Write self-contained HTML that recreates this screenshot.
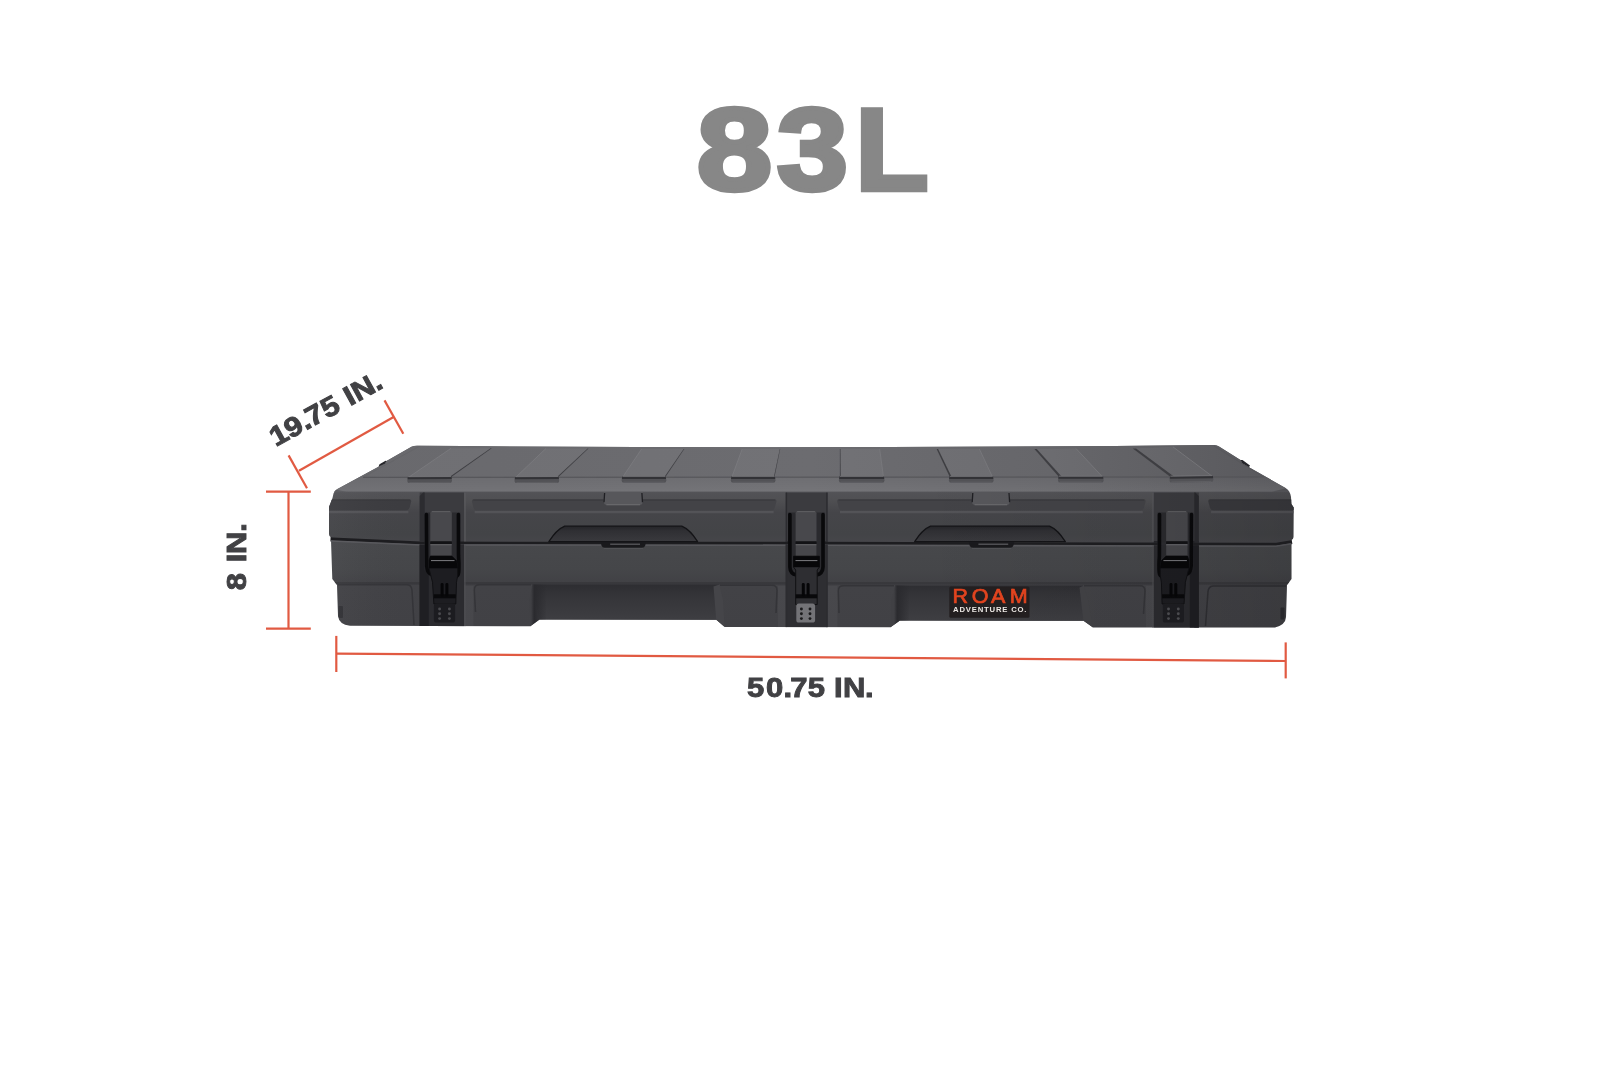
<!DOCTYPE html>
<html lang="en"><head><meta charset="utf-8"><title>83L</title>
<style>
html,body{margin:0;padding:0;background:#fff;}
body{width:1621px;height:1080px;overflow:hidden;position:relative;font-family:"Liberation Sans",sans-serif;}
svg{position:absolute;left:0;top:0;display:block;}
</style></head><body>
<svg width="1621" height="1080" viewBox="0 0 1621 1080">
<defs>
<linearGradient id="gTop" x1="329" y1="0" x2="1294" y2="0" gradientUnits="userSpaceOnUse"><stop offset="0" stop-color="#69696d"/><stop offset="0.5" stop-color="#6c6c70"/><stop offset="0.75" stop-color="#66666a"/><stop offset="0.9" stop-color="#5e5e62"/><stop offset="1" stop-color="#58585c"/></linearGradient>
<linearGradient id="gCham" x1="0" y1="477" x2="0" y2="491.5" gradientUnits="userSpaceOnUse"><stop offset="0" stop-color="#fff" stop-opacity="0.01"/><stop offset="1" stop-color="#fff" stop-opacity="0.06"/></linearGradient>
<linearGradient id="gLid" x1="0" y1="491" x2="0" y2="542" gradientUnits="userSpaceOnUse"><stop offset="0" stop-color="#5a5a5e"/><stop offset="0.035" stop-color="#525256"/><stop offset="0.16" stop-color="#505053"/><stop offset="0.42" stop-color="#454549"/><stop offset="0.85" stop-color="#434447"/><stop offset="1" stop-color="#46464a"/></linearGradient>
<linearGradient id="gBase" x1="0" y1="544" x2="0" y2="628" gradientUnits="userSpaceOnUse"><stop offset="0" stop-color="#47484b"/><stop offset="0.3" stop-color="#454649"/><stop offset="0.47" stop-color="#414145"/><stop offset="0.5" stop-color="#424246"/><stop offset="1" stop-color="#414145"/></linearGradient>
<linearGradient id="gRec" x1="0" y1="584" x2="0" y2="621" gradientUnits="userSpaceOnUse"><stop offset="0" stop-color="#2d2d31"/><stop offset="0.35" stop-color="#353539"/><stop offset="1" stop-color="#3e3e42"/></linearGradient>
<linearGradient id="gHandle" x1="0" y1="526" x2="0" y2="542" gradientUnits="userSpaceOnUse"><stop offset="0" stop-color="#242428"/><stop offset="0.3" stop-color="#2f2f33"/><stop offset="1" stop-color="#3a3a3e"/></linearGradient>
<linearGradient id="gSide" x1="329" y1="0" x2="1294" y2="0" gradientUnits="userSpaceOnUse"><stop offset="0" stop-color="#fff" stop-opacity="0.03"/><stop offset="0.1" stop-color="#000" stop-opacity="0"/><stop offset="0.6" stop-color="#000" stop-opacity="0"/><stop offset="0.85" stop-color="#000" stop-opacity="0.05"/><stop offset="1" stop-color="#000" stop-opacity="0.12"/></linearGradient>
<linearGradient id="gRecL1" x1="531" y1="0" x2="547" y2="0" gradientUnits="userSpaceOnUse"><stop offset="0" stop-color="#404044"/><stop offset="0.2" stop-color="#2a2a2e"/><stop offset="1" stop-color="#2a2a2e" stop-opacity="0"/></linearGradient>
<linearGradient id="gRecL2" x1="894" y1="0" x2="910" y2="0" gradientUnits="userSpaceOnUse"><stop offset="0" stop-color="#404044"/><stop offset="0.2" stop-color="#2a2a2e"/><stop offset="1" stop-color="#2a2a2e" stop-opacity="0"/></linearGradient>
<filter id="noLcd" x="0" y="0" width="1621" height="1080" filterUnits="userSpaceOnUse"><feOffset dx="0" dy="0"/></filter>
<clipPath id="cLid"><path d="M417,445.8 Q811,448.9 1214,444.9 Q1217,444.9 1219,446.5 L1240.5,460 L1242,463.2 L1249,467.3 L1285.5,488 Q1290.5,491.5 1291,497 L1291.4,504 L1293.7,507.5 L1293.5,537 Q1293.5,539.5 1291,540.3 L1276,542.8 L811,541.8 L421,541.6 L333,537.6 Q329,537.4 329,534 L329,507 L332.5,498 L333.5,493.5 Q334.2,491 337,489.3 L378.5,466.8 L385,463.8 L386.5,461 L411.5,446.8 Q413.5,445.8 417,445.8 Z"/></clipPath>
<clipPath id="cBase"><path d="M331,540.2 L421,544.2 L811,544.4 L1276,545.4 L1291.5,543 L1291.5,579 L1287,585 L1286,617 Q1285.5,625 1275,627.4 L1093,627.4 L1083.5,620.8 L900,620.4 L890.5,627.2 L724.7,627 L716.3,619.8 L539.6,619.6 L530.3,626.2 L350,625.8 Q339,624.5 338,616 L337,585 L332.3,579 Z"/></clipPath>
<clipPath id="cAll"><path d="M417,445.8 Q811,448.9 1214,444.9 Q1217,444.9 1219,446.5 L1240.5,460 L1242,463.2 L1249,467.3 L1285.5,488 Q1290.5,491.5 1291,497 L1291.4,504 L1293.7,507.5 L1293.5,537 Q1293.5,539.5 1291,540.3 L1276,542.8 L811,541.8 L421,541.6 L333,537.6 Q329,537.4 329,534 L329,507 L332.5,498 L333.5,493.5 Q334.2,491 337,489.3 L378.5,466.8 L385,463.8 L386.5,461 L411.5,446.8 Q413.5,445.8 417,445.8 Z M331,540.2 L421,544.2 L811,544.4 L1276,545.4 L1291.5,543 L1291.5,579 L1287,585 L1286,617 Q1285.5,625 1275,627.4 L1093,627.4 L1083.5,620.8 L900,620.4 L890.5,627.2 L724.7,627 L716.3,619.8 L539.6,619.6 L530.3,626.2 L350,625.8 Q339,624.5 338,616 L337,585 L332.3,579 Z"/></clipPath>
</defs>
<path d="M330.5,538.9 L421,542.9 L811,543.1 L1276,544.1 L1292,541.6" fill="none" stroke="#1d1d20" stroke-width="5" stroke-linejoin="round"/>
<path d="M331,540.2 L421,544.2 L811,544.4 L1276,545.4 L1291.5,543 L1291.5,579 L1287,585 L1286,617 Q1285.5,625 1275,627.4 L1093,627.4 L1083.5,620.8 L900,620.4 L890.5,627.2 L724.7,627 L716.3,619.8 L539.6,619.6 L530.3,626.2 L350,625.8 Q339,624.5 338,616 L337,585 L332.3,579 Z" fill="url(#gBase)" />
<g clip-path="url(#cBase)">
<path d="M331,540.9 L421,544.9 L811,545.1 L1276,546.1 L1291.5,543.7" stroke="#5a5a5e" stroke-width="1.8" opacity="0.9" fill="none"/>
<rect x="329.0" y="582.0" width="970.0" height="2.6" fill="#37373b" opacity="0.85"/>
<path d="M532.2,584.6 L719,584.6 L716.3,621 L539.6,621 Z" fill="url(#gRec)" />
<path d="M895,585.4 L1083,585.4 L1083.5,622 L900,622 Z" fill="url(#gRec)" />
<path d="M532.2,584.6 L547,584.6 L546,621 L539.6,621 L530.3,628 L529,600 Z" fill="url(#gRecL1)" />
<path d="M719.5,584.6 L713.5,586.5 L716.3,621 L724.7,628 L723,600 Z" fill="#454549" />
<path d="M895,585.4 L910,585.4 L909,622 L900,622 L890.5,628 L891,600 Z" fill="url(#gRecL2)" />
<path d="M1084,585.4 L1079.5,587.5 L1083.5,622 L1093,628 L1088,600 Z" fill="#424246" />
<path d="M338,584.8 L407,584.8 Q411.5,585 412,590 L414,625" fill="none" stroke="#343438" stroke-width="1.5" stroke-linejoin="round"/>
<path d="M1286,586 L1213,586 Q1208.5,586.5 1208,591.5 L1205.5,626" fill="none" stroke="#2f2f33" stroke-width="1.5"/>
<path d="M475.5,612 L474.3,590 Q474.3,584.8 479.5,584.8 L531,584.8" fill="none" stroke="#343438" stroke-width="1.5" stroke-linejoin="round"/>
<path d="M776,613 L777,590.5 Q777,585.3 772,585.3 L720,585.3" fill="none" stroke="#343438" stroke-width="1.5" stroke-linejoin="round"/>
<path d="M839,613 L838.3,591 Q838.3,585.8 843.5,585.8 L894,585.8" fill="none" stroke="#343438" stroke-width="1.5" stroke-linejoin="round"/>
<path d="M1143.5,614 L1145,591 Q1145,585.8 1140,585.8 L1084,585.8" fill="none" stroke="#343438" stroke-width="1.5" stroke-linejoin="round"/>
<rect x="464.5" y="586.0" width="9.0" height="42.0" fill="#fff" opacity="0.035"/>
<rect x="777.8" y="586.0" width="8.2" height="42.0" fill="#fff" opacity="0.035"/>
<rect x="827.0" y="586.0" width="10.5" height="42.0" fill="#fff" opacity="0.035"/>
<rect x="1145.8" y="586.0" width="7.7" height="42.0" fill="#fff" opacity="0.035"/>
<rect x="338.5" y="606.0" width="4.5" height="12.0" fill="#323236" rx="1"/>
<rect x="1280.5" y="607.5" width="4.0" height="12.0" fill="#2d2d31" rx="1"/>
</g>
<path d="M417,445.8 Q811,448.9 1214,444.9 Q1217,444.9 1219,446.5 L1240.5,460 L1242,463.2 L1249,467.3 L1285.5,488 Q1290.5,491.5 1291,497 L1291.4,504 L1293.7,507.5 L1293.5,537 Q1293.5,539.5 1291,540.3 L1276,542.8 L811,541.8 L421,541.6 L333,537.6 Q329,537.4 329,534 L329,507 L332.5,498 L333.5,493.5 Q334.2,491 337,489.3 L378.5,466.8 L385,463.8 L386.5,461 L411.5,446.8 Q413.5,445.8 417,445.8 Z" fill="url(#gLid)" />
<g clip-path="url(#cLid)">
<path d="M325.0,499.6 L409.9,499.6 Q411.4,499.6 411.2,501.5 L409.6,507.5 Q409.0,510.2 405.9,510.2 L325.0,510.2 Z" fill="#3c3c40" />
<line x1="326.5" y1="500" x2="409.9" y2="500" stroke="#37373b" stroke-width="1.2"/>
<line x1="328.0" y1="512.1" x2="408.4" y2="512.1" stroke="#5a5a5e" stroke-width="2.2" opacity="0.7"/>
<path d="M473.2,499.6 L775.1,499.6 Q776.6,499.6 776.4,501.5 L774.8,507.5 Q774.2,510.2 771.1,510.2 L477.2,510.2 Q474.1,510.2 473.5,507.5 L471.9,501.5 Q471.7,499.6 473.2,499.6 Z" fill="#434347" />
<line x1="473.2" y1="500" x2="775.1" y2="500" stroke="#37373b" stroke-width="1.2"/>
<line x1="474.7" y1="512.1" x2="773.6" y2="512.1" stroke="#5a5a5e" stroke-width="2.2" opacity="0.7"/>
<path d="M838.5,499.6 L1144.3,499.6 Q1145.8,499.6 1145.6,501.5 L1144.0,507.5 Q1143.4,510.2 1140.3,510.2 L842.5,510.2 Q839.4,510.2 838.8,507.5 L837.2,501.5 Q837.0,499.6 838.5,499.6 Z" fill="#434347" />
<line x1="838.5" y1="500" x2="1144.3" y2="500" stroke="#37373b" stroke-width="1.2"/>
<line x1="840.0" y1="512.1" x2="1142.8" y2="512.1" stroke="#5a5a5e" stroke-width="2.2" opacity="0.7"/>
<path d="M1209.6,499.6 L1300.0,499.6 L1300.0,510.2 L1213.6,510.2 Q1210.5,510.2 1209.9,507.5 L1208.3,501.5 Q1208.1,499.6 1209.6,499.6 Z" fill="#3a3a3e" />
<line x1="1209.6" y1="500" x2="1298.5" y2="500" stroke="#37373b" stroke-width="1.2"/>
<line x1="1211.1" y1="512.1" x2="1297.0" y2="512.1" stroke="#5a5a5e" stroke-width="2.2" opacity="0.7"/>
<path d="M603.4,491.5 L643.1,491.5 L642.8,502 Q642.5,505 639.6,505 L606.9,505 Q604.0,505 603.7,502 Z" fill="#57575b" />
<path d="M604.6,493 L604.0,502.2" stroke="#1f1f23" stroke-width="1.3" fill="none"/>
<path d="M641.9,493 L642.5,502.2" stroke="#1f1f23" stroke-width="1.3" fill="none"/>
<path d="M606.4,504.8 L640.1,504.8" stroke="#707074" stroke-width="1" fill="none" opacity="0.9"/>
<path d="M971.6,491.5 L1010.2,491.5 L1009.9,502 Q1009.6,505 1006.7,505 L975.1,505 Q972.2,505 971.9,502 Z" fill="#57575b" />
<path d="M972.8,493 L972.2,502.2" stroke="#1f1f23" stroke-width="1.3" fill="none"/>
<path d="M1009.0,493 L1009.6,502.2" stroke="#1f1f23" stroke-width="1.3" fill="none"/>
<path d="M974.6,504.8 L1007.2,504.8" stroke="#707074" stroke-width="1" fill="none" opacity="0.9"/>
<path d="M400,440 L1230,440 L1300,491.6 L320,491.6 Z" fill="url(#gTop)" />
<path d="M363,477.3 L1263.5,477 L1300,491.6 L320,491.6 Z" fill="url(#gCham)" />
<path d="M1263.5,477 L363,477.3" stroke="#525256" stroke-width="1" fill="none"/>
<path d="M363,477.3 L420,446" stroke="#5e5e62" stroke-width="0.8" fill="none" opacity="0.5"/>
<path d="M1263.5,477 L1214,446" stroke="#515155" stroke-width="0.8" fill="none" opacity="0.5"/>
<path d="M320,491.8 L347,491.8 L334,489.5 Z" fill="#5a5a5e" />
<path d="M1300,491.8 L1272,491.8 L1285,488.5 Z" fill="#505054" />
</g>
<polygon points="451.0,448.3 491.8,448.3 451.0,477.3 408.3,477.5" fill="#fff" opacity="0.045"/>
<polygon points="491.8,448.3 490.6,448.3 449.1,477.3 451.0,477.3" fill="#3f3f43" />
<line x1="451.0" y1="448.3" x2="408.3" y2="477.5" stroke="#808084" stroke-width="0.8" opacity="0.8"/>
<path d="M407.8,476.9 L451.5,476.7 L452.0,480.7 Q452.0,482.9 449.5,482.9 L409.8,483.1 Q407.3,483.1 407.3,480.9 Z" fill="#525256"/>
<path d="M407.8,476.9 L451.5,476.7 L451.7,479.1 L407.6,479.3 Z" fill="#323236"/>
<line x1="408.3" y1="476.7" x2="451.0" y2="476.5" stroke="#77777b" stroke-width="0.8"/>
<line x1="409.3" y1="482.5" x2="450.0" y2="482.3" stroke="#606064" stroke-width="1" opacity="0.9"/>
<polygon points="545.9,448.5 588.5,448.5 558.2,477.3 515.5,477.5" fill="#fff" opacity="0.045"/>
<polygon points="588.5,448.5 587.6,448.5 556.7,477.3 558.2,477.3" fill="#3f3f43" />
<line x1="545.9" y1="448.5" x2="515.5" y2="477.5" stroke="#808084" stroke-width="0.8" opacity="0.8"/>
<path d="M515.0,476.9 L558.7,476.7 L559.2,480.7 Q559.2,482.9 556.7,482.9 L517.0,483.1 Q514.5,483.1 514.5,480.9 Z" fill="#525256"/>
<path d="M515.0,476.9 L558.7,476.7 L558.9,479.1 L514.8,479.3 Z" fill="#323236"/>
<line x1="515.5" y1="476.7" x2="558.2" y2="476.5" stroke="#77777b" stroke-width="0.8"/>
<line x1="516.5" y1="482.5" x2="557.2" y2="482.3" stroke="#606064" stroke-width="1" opacity="0.9"/>
<polygon points="641.6,449.0 684.3,449.0 665.3,477.2 622.6,477.2" fill="#fff" opacity="0.045"/>
<polygon points="684.3,449.0 683.6,449.0 664.2,477.2 665.3,477.2" fill="#3f3f43" />
<line x1="641.6" y1="449.0" x2="622.6" y2="477.2" stroke="#808084" stroke-width="0.8" opacity="0.8"/>
<path d="M622.1,476.6 L665.8,476.6 L666.3,480.6 Q666.3,482.8 663.8,482.8 L624.1,482.8 Q621.6,482.8 621.6,480.6 Z" fill="#525256"/>
<path d="M622.1,476.6 L665.8,476.6 L666.0,479.0 L621.9,479.0 Z" fill="#323236"/>
<line x1="622.6" y1="476.4" x2="665.3" y2="476.4" stroke="#77777b" stroke-width="0.8"/>
<line x1="623.6" y1="482.2" x2="664.3" y2="482.2" stroke="#606064" stroke-width="1" opacity="0.9"/>
<polygon points="742.2,449.0 780.2,449.0 774.5,477.2 731.8,477.2" fill="#fff" opacity="0.045"/>
<polygon points="780.2,449.0 779.8,449.0 773.8,477.2 774.5,477.2" fill="#3f3f43" />
<line x1="742.2" y1="449.0" x2="731.8" y2="477.2" stroke="#808084" stroke-width="0.8" opacity="0.8"/>
<path d="M731.3,476.6 L775.0,476.6 L775.5,480.6 Q775.5,482.8 773.0,482.8 L733.3,482.8 Q730.8,482.8 730.8,480.6 Z" fill="#525256"/>
<path d="M731.3,476.6 L775.0,476.6 L775.2,479.0 L731.1,479.0 Z" fill="#323236"/>
<line x1="731.8" y1="476.4" x2="774.5" y2="476.4" stroke="#77777b" stroke-width="0.8"/>
<line x1="732.8" y1="482.2" x2="773.5" y2="482.2" stroke="#606064" stroke-width="1" opacity="0.9"/>
<polygon points="839.9,449.0 879.7,449.0 883.5,477.2 839.9,477.2" fill="#fff" opacity="0.045"/>
<polygon points="839.9,449.0 840.5,449.0 840.7,477.2 839.9,477.2" fill="#3e3e42" />
<line x1="879.7" y1="449.0" x2="883.5" y2="477.2" stroke="#7c7c80" stroke-width="0.8" opacity="0.85"/>
<path d="M839.4,476.6 L884.0,476.6 L884.5,480.6 Q884.5,482.8 882.0,482.8 L841.4,482.8 Q838.9,482.8 838.9,480.6 Z" fill="#525256"/>
<path d="M839.4,476.6 L884.0,476.6 L884.2,479.0 L839.2,479.0 Z" fill="#323236"/>
<line x1="839.9" y1="476.4" x2="883.5" y2="476.4" stroke="#77777b" stroke-width="0.8"/>
<line x1="840.9" y1="482.2" x2="882.5" y2="482.2" stroke="#606064" stroke-width="1" opacity="0.9"/>
<polygon points="936.6,449.0 979.4,449.0 992.6,477.2 949.9,477.2" fill="#fff" opacity="0.045"/>
<polygon points="936.6,449.0 938.1,449.0 951.8,477.2 949.9,477.2" fill="#3e3e42" />
<line x1="979.4" y1="449.0" x2="992.6" y2="477.2" stroke="#7c7c80" stroke-width="0.8" opacity="0.85"/>
<path d="M949.4,476.6 L993.1,476.6 L993.6,480.6 Q993.6,482.8 991.1,482.8 L951.4,482.8 Q948.9,482.8 948.9,480.6 Z" fill="#525256"/>
<path d="M949.4,476.6 L993.1,476.6 L993.3,479.0 L949.2,479.0 Z" fill="#323236"/>
<line x1="949.9" y1="476.4" x2="992.6" y2="476.4" stroke="#77777b" stroke-width="0.8"/>
<line x1="950.9" y1="482.2" x2="991.6" y2="482.2" stroke="#606064" stroke-width="1" opacity="0.9"/>
<polygon points="1034.4,449.0 1076.0,448.5 1102.6,477.0 1059.0,477.0" fill="#fff" opacity="0.045"/>
<polygon points="1034.4,449.0 1036.8,449.0 1062.0,477.0 1059.0,477.0" fill="#3e3e42" />
<line x1="1076.0" y1="448.5" x2="1102.6" y2="477.0" stroke="#7c7c80" stroke-width="0.8" opacity="0.85"/>
<path d="M1058.5,476.4 L1103.1,476.4 L1103.6,480.4 Q1103.6,482.6 1101.1,482.6 L1060.5,482.6 Q1058.0,482.6 1058.0,480.4 Z" fill="#525256"/>
<path d="M1058.5,476.4 L1103.1,476.4 L1103.3,478.8 L1058.3,478.8 Z" fill="#323236"/>
<line x1="1059.0" y1="476.2" x2="1102.6" y2="476.2" stroke="#77777b" stroke-width="0.8"/>
<line x1="1060.0" y1="482.0" x2="1101.6" y2="482.0" stroke="#606064" stroke-width="1" opacity="0.9"/>
<polygon points="1132.8,448.6 1172.9,446.8 1212.4,476.4 1170.5,477.0" fill="#fff" opacity="0.045"/>
<polygon points="1132.8,448.6 1136.1,448.6 1174.6,477.0 1170.5,477.0" fill="#3e3e42" />
<line x1="1172.9" y1="446.8" x2="1212.4" y2="476.4" stroke="#7c7c80" stroke-width="0.8" opacity="0.85"/>
<path d="M1170.0,476.4 L1212.9,475.8 L1213.4,479.8 Q1213.4,482.0 1210.9,482.0 L1172.0,482.6 Q1169.5,482.6 1169.5,480.4 Z" fill="#525256"/>
<path d="M1170.0,476.4 L1212.9,475.8 L1213.1,478.2 L1169.8,478.8 Z" fill="#323236"/>
<line x1="1170.5" y1="476.2" x2="1212.4" y2="475.6" stroke="#77777b" stroke-width="0.8"/>
<line x1="1171.5" y1="482.0" x2="1211.4" y2="481.4" stroke="#606064" stroke-width="1" opacity="0.9"/>
<polygon points="378.5,466.8 379.5,464.2 385.5,460.8 386.5,461.0 385.0,463.8" fill="#26262a" />
<polygon points="1240.5,460.0 1242.5,460.0 1250.0,465.5 1249.0,467.3 1242.0,463.2" fill="#26262a" />
<path d="M548.7,541.8 C552.7,536 556.7,529.5 564.7,526.2 L681.8,526.2 C689.8,529.5 693.8,536 697.8,541.8 Z" fill="url(#gHandle)" />
<path d="M548.7,541.8 C552.7,536 556.7,529.5 564.7,526.2 L681.8,526.2 C689.8,529.5 693.8,536 697.8,541.8" fill="none" stroke="#131316" stroke-width="1.3"/>
<line x1="548.7" y1="541.7" x2="697.8" y2="541.7" stroke="#141417" stroke-width="1.2"/>
<path d="M914.5,541.8 C918.5,536 922.5,529.5 930.5,526.2 L1049.5,526.2 C1057.5,529.5 1061.5,536 1065.5,541.8 Z" fill="url(#gHandle)" />
<path d="M914.5,541.8 C918.5,536 922.5,529.5 930.5,526.2 L1049.5,526.2 C1057.5,529.5 1061.5,536 1065.5,541.8" fill="none" stroke="#131316" stroke-width="1.3"/>
<line x1="914.5" y1="541.7" x2="1065.5" y2="541.7" stroke="#141417" stroke-width="1.2"/>
<path d="M600.7,542.2 L646.0,542.2 L645.2,545.5 Q644.5,547.8 642.0,547.8 L604.7,547.8 Q602.2,547.8 601.5,545.5 Z" fill="#19191c" />
<rect x="610.2" y="543.6" width="29.8" height="1.2" fill="#5e5e62" />
<path d="M603.7,548.4 L643.0,548.4" stroke="#5c5c60" stroke-width="0.9" opacity="0.7" fill="none"/>
<path d="M968.9,542.2 L1014.2,542.2 L1013.4,545.5 Q1012.7,547.8 1010.2,547.8 L972.9,547.8 Q970.4,547.8 969.7,545.5 Z" fill="#19191c" />
<rect x="978.4" y="543.6" width="29.8" height="1.2" fill="#5e5e62" />
<path d="M971.9,548.4 L1011.2,548.4" stroke="#5c5c60" stroke-width="0.9" opacity="0.7" fill="none"/>
<g clip-path="url(#cAll)">
<rect x="419.7" y="492.6" width="44.3" height="50.0" fill="#3b3b3f" />
<rect x="419.7" y="543.0" width="44.3" height="90.0" fill="#2b2b2f" />
<rect x="419.7" y="541.4" width="44.3" height="2.6" fill="#1a1a1d" />
<path d="M419.7,496 L423.2,492.6 L424.7,492.6 L424.7,630 L419.7,630 Z" fill="#2c2c30" />
<rect x="419.7" y="545.0" width="9.0" height="90.0" fill="#1f1f23" />
<rect x="464.0" y="492.6" width="2.0" height="49.0" fill="#5a5a5e" opacity="0.6"/>
<rect x="464.0" y="545.0" width="1.8" height="83.0" fill="#505054" opacity="0.6"/>
</g>
<rect x="424.6" y="512.5" width="5.8" height="58.0" fill="#2a2a2e" />
<rect x="451.7" y="512.5" width="8.6" height="58.0" fill="#2a2a2e" />
<path d="M426.4,514.5 L426.7,566 Q427.0,573 431.6,574.5" fill="none" stroke="#09090b" stroke-width="3.6" stroke-linecap="round" stroke-linejoin="round"/>
<path d="M458.4,514.5 L458.5,556 Q459.2,566 458.7,572 Q458.4,576 454.9,577" fill="none" stroke="#09090b" stroke-width="3.6" stroke-linecap="round" stroke-linejoin="round"/>
<path d="M430.4,541.5 L430.4,513.2 Q430.4,511 432.6,511 L449.5,511 Q451.7,511 451.7,513.2 L451.7,541.5 Z" fill="#48484c" />
<line x1="431.9" y1="511.6" x2="450.2" y2="511.6" stroke="#606064" stroke-width="1.1" opacity="0.9"/>
<rect x="430.4" y="541.3" width="21.3" height="3.0" fill="#121215" />
<rect x="430.4" y="544.2" width="21.3" height="12.0" fill="#47474b" />
<rect x="430.4" y="544.2" width="21.3" height="1.1" fill="#6a6a6e" opacity="0.8"/>
<polygon points="430.4,556.1 451.7,556.1 456.5,560.7 457.7,568.3 457.7,575.3 456.5,582.2 455.8,604.0 433.9,604.0 432.5,582.2 429.0,568.3 429.0,560.7" fill="#1d1d21" stroke="#101013" stroke-width="1"/>
<polygon points="430.4,556.1 451.7,556.1 456.5,560.7 457.7,568.3 429.0,568.3 429.0,560.7" fill="#070709" />
<rect x="433.9" y="594.3" width="21.9" height="4.0" fill="#09090b" />
<line x1="431.0" y1="560.6" x2="454.5" y2="560.6" stroke="#8a8a8e" stroke-width="0.9"/>
<rect x="433.9" y="603.6" width="21.2" height="19.0" fill="#1c1c20" rx="2.6"/>
<circle cx="439.6" cy="609.0" r="1.45" fill="#4a4a4e"/>
<circle cx="449.4" cy="609.0" r="1.45" fill="#4a4a4e"/>
<circle cx="439.6" cy="613.8" r="1.45" fill="#4a4a4e"/>
<circle cx="449.4" cy="613.8" r="1.45" fill="#4a4a4e"/>
<circle cx="439.6" cy="618.6" r="1.45" fill="#4a4a4e"/>
<circle cx="449.4" cy="618.6" r="1.45" fill="#4a4a4e"/>
<rect x="440.6" y="583.0" width="3.0" height="13.5" fill="#060608" rx="1.4"/>
<rect x="445.4" y="583.0" width="3.0" height="13.5" fill="#060608" rx="1.4"/>
<g clip-path="url(#cAll)">
<rect x="785.7" y="492.6" width="41.9" height="50.0" fill="#3b3b3f" />
<rect x="785.7" y="543.0" width="41.9" height="90.0" fill="#2e2e32" />
<rect x="785.7" y="541.4" width="41.9" height="2.6" fill="#1a1a1d" />
<rect x="785.7" y="492.6" width="1.4" height="136.0" fill="#2c2c30" />
<rect x="826.2" y="492.6" width="1.4" height="136.0" fill="#2c2c30" />
</g>
<rect x="788.1" y="512.5" width="7.6" height="58.0" fill="#2a2a2e" />
<rect x="816.4" y="512.5" width="8.4" height="58.0" fill="#2a2a2e" />
<path d="M789.9,514.5 L789.9,567 Q790.2,574 796.4,575" fill="none" stroke="#09090b" stroke-width="3.6" stroke-linecap="round" stroke-linejoin="round"/>
<path d="M823.0,514.5 L823.0,567 Q822.7,574 816.5,575" fill="none" stroke="#09090b" stroke-width="3.6" stroke-linecap="round" stroke-linejoin="round"/>
<path d="M795.7,541.5 L795.7,513.2 Q795.7,511 797.9,511 L814.2,511 Q816.4,511 816.4,513.2 L816.4,541.5 Z" fill="#48484c" />
<line x1="797.2" y1="511.6" x2="814.9" y2="511.6" stroke="#606064" stroke-width="1.1" opacity="0.9"/>
<rect x="795.7" y="541.3" width="20.7" height="3.0" fill="#121215" />
<rect x="795.7" y="544.2" width="20.7" height="12.0" fill="#47474b" />
<rect x="795.7" y="544.2" width="20.7" height="1.1" fill="#6a6a6e" opacity="0.8"/>
<polygon points="793.5,556.2 819.4,556.2 819.4,567.0 817.2,570.0 817.2,604.5 795.7,604.5 795.7,570.0 793.5,567.0" fill="#2e2e32" stroke="#101013" stroke-width="1"/>
<polygon points="793.5,556.2 819.4,556.2 819.4,567.2 793.5,567.2" fill="#070709" />
<rect x="795.7" y="594.3" width="21.5" height="4.0" fill="#09090b" />
<line x1="795.5" y1="560.6" x2="817.4" y2="560.6" stroke="#8a8a8e" stroke-width="0.9"/>
<rect x="796.3" y="603.6" width="18.8" height="19.0" fill="#737377" rx="2.6"/>
<circle cx="801.4" cy="609.0" r="1.45" fill="#1a1a1c"/>
<circle cx="810.0" cy="609.0" r="1.45" fill="#1a1a1c"/>
<circle cx="801.4" cy="613.8" r="1.45" fill="#1a1a1c"/>
<circle cx="810.0" cy="613.8" r="1.45" fill="#1a1a1c"/>
<circle cx="801.4" cy="618.6" r="1.45" fill="#1a1a1c"/>
<circle cx="810.0" cy="618.6" r="1.45" fill="#1a1a1c"/>
<rect x="801.8" y="583.0" width="3.0" height="13.5" fill="#060608" rx="1.4"/>
<rect x="806.6" y="583.0" width="3.0" height="13.5" fill="#060608" rx="1.4"/>
<g clip-path="url(#cAll)">
<rect x="1153.8" y="492.6" width="45.0" height="50.0" fill="#3b3b3f" />
<rect x="1153.8" y="543.0" width="45.0" height="90.0" fill="#2b2b2f" />
<rect x="1153.8" y="541.4" width="45.0" height="2.6" fill="#1a1a1d" />
<path d="M1198.8,496 L1195.3,492.6 L1194.3,492.6 L1194.3,630 L1198.8,630 Z" fill="#2a2a2e" />
<rect x="1189.8" y="545.0" width="9.0" height="90.0" fill="#1e1e22" />
<rect x="1151.8" y="492.6" width="2.0" height="49.0" fill="#56565a" opacity="0.6"/>
<rect x="1152.0" y="545.0" width="1.8" height="83.0" fill="#4c4c50" opacity="0.6"/>
</g>
<rect x="1187.5" y="512.5" width="5.8" height="58.0" fill="#2a2a2e" />
<rect x="1157.6" y="512.5" width="8.6" height="58.0" fill="#2a2a2e" />
<path d="M1191.5,514.5 L1191.2,566 Q1190.9,573 1186.3,574.5" fill="none" stroke="#09090b" stroke-width="3.6" stroke-linecap="round" stroke-linejoin="round"/>
<path d="M1159.5,514.5 L1159.4,556 Q1158.7,566 1159.2,572 Q1159.5,576 1163.0,577" fill="none" stroke="#09090b" stroke-width="3.6" stroke-linecap="round" stroke-linejoin="round"/>
<path d="M1166.2,541.5 L1166.2,513.2 Q1166.2,511 1168.4,511 L1185.3,511 Q1187.5,511 1187.5,513.2 L1187.5,541.5 Z" fill="#48484c" />
<line x1="1167.7" y1="511.6" x2="1186.0" y2="511.6" stroke="#606064" stroke-width="1.1" opacity="0.9"/>
<rect x="1166.2" y="541.3" width="21.3" height="3.0" fill="#121215" />
<rect x="1166.2" y="544.2" width="21.3" height="12.0" fill="#47474b" />
<rect x="1166.2" y="544.2" width="21.3" height="1.1" fill="#6a6a6e" opacity="0.8"/>
<polygon points="1187.5,556.1 1166.2,556.1 1161.4,560.7 1160.2,568.3 1160.2,575.3 1161.4,582.2 1162.1,604.0 1184.0,604.0 1185.4,582.2 1188.9,568.3 1188.9,560.7" fill="#1d1d21" stroke="#101013" stroke-width="1"/>
<polygon points="1187.5,556.1 1166.2,556.1 1161.4,560.7 1160.2,568.3 1188.9,568.3 1188.9,560.7" fill="#070709" />
<rect x="1162.1" y="594.3" width="21.9" height="4.0" fill="#09090b" />
<line x1="1163.4" y1="560.6" x2="1186.9" y2="560.6" stroke="#8a8a8e" stroke-width="0.9"/>
<rect x="1162.8" y="603.6" width="21.2" height="19.0" fill="#1e1e22" rx="2.6"/>
<circle cx="1168.5" cy="609.0" r="1.45" fill="#505054"/>
<circle cx="1178.3" cy="609.0" r="1.45" fill="#505054"/>
<circle cx="1168.5" cy="613.8" r="1.45" fill="#505054"/>
<circle cx="1178.3" cy="613.8" r="1.45" fill="#505054"/>
<circle cx="1168.5" cy="618.6" r="1.45" fill="#505054"/>
<circle cx="1178.3" cy="618.6" r="1.45" fill="#505054"/>
<rect x="1169.5" y="583.0" width="3.0" height="13.5" fill="#060608" rx="1.4"/>
<rect x="1174.3" y="583.0" width="3.0" height="13.5" fill="#060608" rx="1.4"/>
<g clip-path="url(#cAll)"><rect x="320" y="491.8" width="990" height="145" fill="url(#gSide)"/></g>
<rect x="949.3" y="586.4" width="80.2" height="31.4" fill="#231f20" rx="1.6"/>
<g filter="url(#noLcd)"><text transform="matrix(0.2150,0,0,0.2043,0,603.15)" x="4429.9 4519.9 4609.1 4696.4" y="0" font-family="'Liberation Sans',sans-serif" font-weight="normal" font-size="100" fill="#e2441f" stroke="#e2441f" stroke-width="0.70" stroke-linejoin="miter" stroke-miterlimit="8" vector-effect="non-scaling-stroke">ROAM</text></g>
<g filter="url(#noLcd)"><text transform="matrix(0.077,0,0,0.068,953.1,612.35)" x="0" y="0" font-family="'Liberation Sans',sans-serif" font-weight="bold" font-size="100" fill="#ebe7e3" textLength="953" lengthAdjust="spacing">ADVENTURE CO.</text></g>
<line x1="299.0" y1="470.7" x2="393.6" y2="417.0" stroke="#e15a42" stroke-width="2.2"/>
<line x1="288.6" y1="455.4" x2="307.0" y2="488.3" stroke="#e15a42" stroke-width="2.2"/>
<line x1="384.5" y1="400.4" x2="403.3" y2="433.8" stroke="#e15a42" stroke-width="2.2"/>
<line x1="266.0" y1="491.7" x2="310.8" y2="491.7" stroke="#e15a42" stroke-width="2.2"/>
<line x1="266.0" y1="628.7" x2="310.8" y2="628.7" stroke="#e15a42" stroke-width="2.2"/>
<line x1="288.5" y1="491.7" x2="288.5" y2="628.7" stroke="#e15a42" stroke-width="2.2"/>
<line x1="336.3" y1="635.9" x2="336.3" y2="672.0" stroke="#e15a42" stroke-width="2.2"/>
<line x1="1285.7" y1="642.4" x2="1285.7" y2="678.4" stroke="#e15a42" stroke-width="2.2"/>
<line x1="336.3" y1="653.6" x2="1285.7" y2="661.0" stroke="#e15a42" stroke-width="2.2"/>
<g filter="url(#noLcd)"><text transform="matrix(1.2800,0,0,1.1745,0,189.95)" y="0" font-family="'Liberation Sans',sans-serif" font-weight="bold" font-size="100" fill="#878787" stroke="#878787" stroke-width="4.00" stroke-linejoin="miter" stroke-miterlimit="8" vector-effect="non-scaling-stroke"><tspan x="544.40" textLength="58.97" lengthAdjust="spacingAndGlyphs">8</tspan><tspan x="606.79" textLength="55.72" lengthAdjust="spacingAndGlyphs">3</tspan><tspan x="668.20" textLength="57.28" lengthAdjust="spacingAndGlyphs">L</tspan></text></g>
<g filter="url(#noLcd)"><text transform="matrix(0.3100,0,0,0.2710,0,697.20)" x="2409.9 2471.0 2527.1 2548.9 2605.4 2656.4 2690.0 2719.2 2790.0" y="0" font-family="'Liberation Sans',sans-serif" font-weight="bold" font-size="100" fill="#414144" stroke="#414144" stroke-width="1.00" stroke-linejoin="miter" stroke-miterlimit="8" vector-effect="non-scaling-stroke">50.75 IN.</text></g>
<g filter="url(#noLcd)"><text transform="matrix(0,-1,1,0,0,0) matrix(0.3100,0,0,0.2717,0,245.75)" x="-1904.2 -1851.3 -1814.1 -1787.5 -1715.6" y="0" font-family="'Liberation Sans',sans-serif" font-weight="bold" font-size="100" fill="#414144" stroke="#414144" stroke-width="1.00" stroke-linejoin="miter" stroke-miterlimit="8" vector-effect="non-scaling-stroke">8 IN.</text></g>
<g filter="url(#noLcd)"><text transform="matrix(0.87631,-0.48175,0.48175,0.87631,0,0) matrix(0.3100,0,0,0.2754,0,524.60)" x="84.4 138.7 194.9 216.6 273.1 324.5 357.7 386.9 457.8" y="0" font-family="'Liberation Sans',sans-serif" font-weight="bold" font-size="100" fill="#414144" stroke="#414144" stroke-width="1.00" stroke-linejoin="miter" stroke-miterlimit="8" vector-effect="non-scaling-stroke">19.75 IN.</text></g>
</svg>
</body></html>
